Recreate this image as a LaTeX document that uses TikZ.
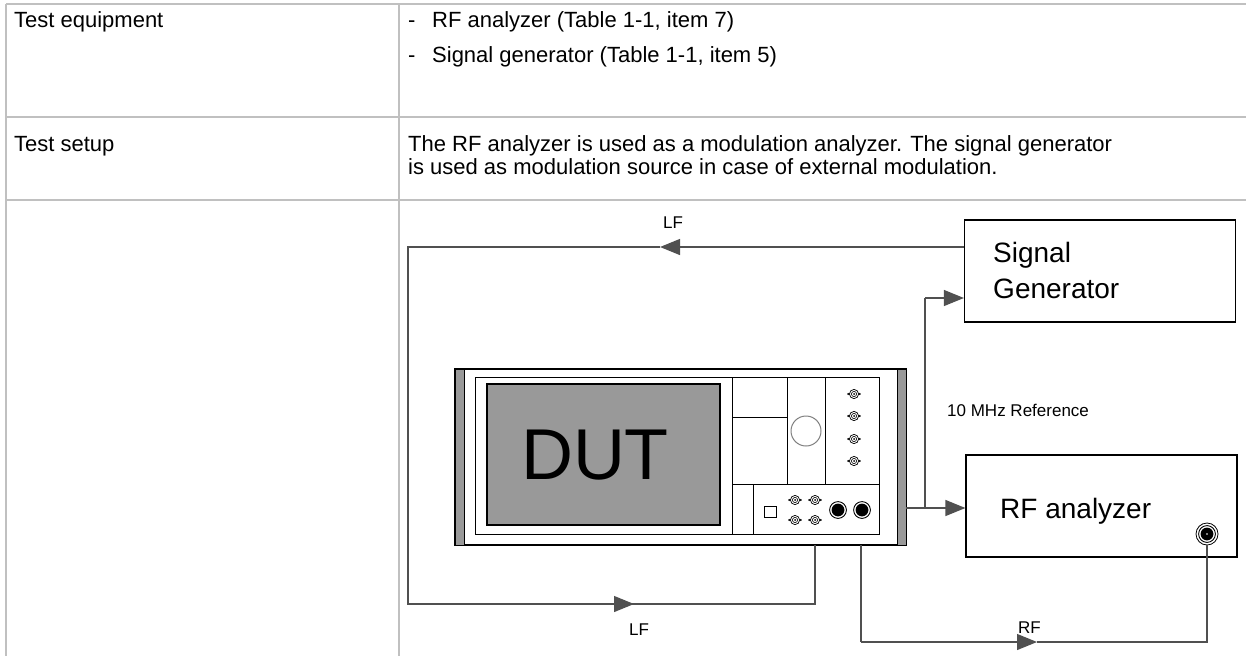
\documentclass[tikz,border=0pt]{standalone}
\usepackage{fontspec}
\setmainfont{Liberation Sans}
\usetikzlibrary{arrows.meta}
\definecolor{rule}{HTML}{C0C0C0}
\definecolor{panelgray}{HTML}{999999}
\definecolor{wire}{HTML}{505050}
\tikzset{
  tablerule/.style={draw=rule, line width=2pt},
  bodytext/.style={anchor=base west, inner sep=0pt, font=\fontsize{22}{24}\selectfont},
  boxtext/.style={anchor=base west, inner sep=0pt, font=\fontsize{28}{30}\selectfont},
  smalltext/.style={anchor=base west, inner sep=0pt, font=\fontsize{17}{18}\selectfont},
  devbox/.style={draw=black, line width=1.2pt, fill=white, minimum width=271pt, minimum height=102pt, inner sep=0pt},
  wireline/.style={draw=wire, line width=1.2pt},
  wirearrow/.style={wireline, -{Triangle[length=20pt,width=16pt]}},
  thin/.style={draw=black, line width=1pt},
  bnc/.pic={
    \draw[line width=0.7pt] (0,0) circle (4.6);
    \draw[line width=0.6pt] (0,0) circle (2.6);
    \fill (0,0) circle (1);
    \fill (-5.8,0) circle (1.1);
    \fill (5.8,0) circle (1.1);
  },
  jack/.pic={
    \draw[line width=0.9pt] (0,0) circle (8.4);
    \fill (0,0) circle (6.4);
  }
}
\begin{document}
\begin{tikzpicture}[x=1pt, y=-1pt]
\useasboundingbox (0,0) rectangle (1246,656);

% table rules
\draw[tablerule] (6,4) -- (1246,4);
\draw[tablerule] (6,117) -- (1246,117);
\draw[tablerule] (6,200) -- (1246,200);
\draw[tablerule] (6,4) -- (6,656);
\draw[tablerule] (399,4) -- (399,656);

% table text
\node[bodytext] (teq) at (14,27) {Test equipment};
\node[bodytext] (dash1) at (408,27) {-};
\node[bodytext] (item1) at (432,27) {RF analyzer (Table 1-1, item 7)};
\node[bodytext] (dash2) at (408,62) {-};
\node[bodytext] (item2) at (432,62) {Signal generator (Table 1-1, item 5)};
\node[bodytext] (tsu) at (14,151) {Test setup};
\node[bodytext] (para1) at (408,151) {The RF analyzer is used as a modulation analyzer. The signal generator};
\node[bodytext] (para2) at (408,174) {is used as modulation source in case of external modulation.};

% instruments
\node[devbox] (sg) at (1100,271) {};
\node[boxtext] (sgl1) at (993,262) {Signal};
\node[boxtext] (sgl2) at (993,298) {Generator};
\node[devbox] (rfa) at (1101.5,506) {};
\node[boxtext] (rfal) at (1000,518) {RF analyzer};
\pic at (1207,534) {jack};
\draw[line width=0.8pt] (1207,534) circle (11);
\fill[white] (1207,534) circle (0.9);
\coordinate (rfin) at (1207,545);

% DUT front panel
\node[draw=black, line width=1.2pt, fill=white, minimum width=451pt, minimum height=176pt, inner sep=0pt] (dut) at (680.5,457) {};
\filldraw[fill=panelgray, draw=black, line width=1pt] (455,369) rectangle (464,545);
\filldraw[fill=panelgray, draw=black, line width=1pt] (897,369) rectangle (906,545);
\draw[thin] (475,377) rectangle (879,534);
\filldraw[fill=panelgray, draw=black, line width=1.2pt] (487,384) rectangle (720,525);
\node[anchor=base, inner sep=0pt, font=\fontsize{72}{72}\selectfont] (dutl) at (595,479) {DUT};
\draw[thin] (732,377) -- (732,534);
\draw[thin] (732,484) -- (879,484);
\draw[thin] (787,377) -- (787,484);
\draw[thin] (825,377) -- (825,484);
\draw[thin] (732,417) -- (787,417);
\draw[thin] (753,484) -- (753,534);
\draw[draw=gray, line width=1pt] (806,431) circle (15);
\foreach \yy in {394,416,439,461} \pic at (854,\yy) {bnc};
\pic at (795,500) {bnc};
\pic at (815,500) {bnc};
\pic at (795,520) {bnc};
\pic at (815,520) {bnc};
\draw[line width=0.8pt] (764,506) rectangle (776,517);
\pic at (838,510) {jack};
\pic at (862,510) {jack};

% DUT ports
\coordinate (lfport) at (815,545);
\coordinate (rfport) at (861,545);
\coordinate (refport) at (906,508);

% LF loop from the signal generator to the DUT
\coordinate (lfa) at (sg.west |- 0,247);
\coordinate (lftip1) at (660,247);
\coordinate (lfc1) at (408,247);
\coordinate (lfc2) at (408,604);
\coordinate (lftip2) at (634,604);
\coordinate (lfc3) at (815,604);
\draw[wirearrow] (lfa) -- (lftip1);
\draw[wireline] (lftip1) -- (lfc1) -- (lfc2) -- (lftip2);
\draw[wirearrow] (lfc2) -- (lftip2);
\draw[wireline] (lftip2) -- (lfc3) -- (lfport);
\node[smalltext] (lftop) at (663,228) {LF};
\node[smalltext] (lfbot) at (629,635) {LF};

% 10 MHz reference
\coordinate (refj) at (925,508);
\coordinate (refup) at (925,298);
\draw[wireline] (refport) -- (refj);
\draw[wirearrow] (refj) -- (rfa.west |- refj);
\draw[wireline] (refj) -- (refup);
\draw[wirearrow] (refup) -- (sg.west |- refup);
\node[smalltext] (refl) at (947,416) {10 MHz Reference};

% RF path from the DUT to the RF analyzer
\coordinate (rfc1) at (861,642);
\coordinate (rftip) at (1037,642);
\coordinate (rfc2) at (1207,642);
\draw[wireline] (rfport) -- (rfc1);
\draw[wirearrow] (rfc1) -- (rftip);
\draw[wireline] (rftip) -- (rfc2) -- (rfin);
\node[smalltext] (rfl) at (1018,633) {RF};
\end{tikzpicture}
\end{document}
